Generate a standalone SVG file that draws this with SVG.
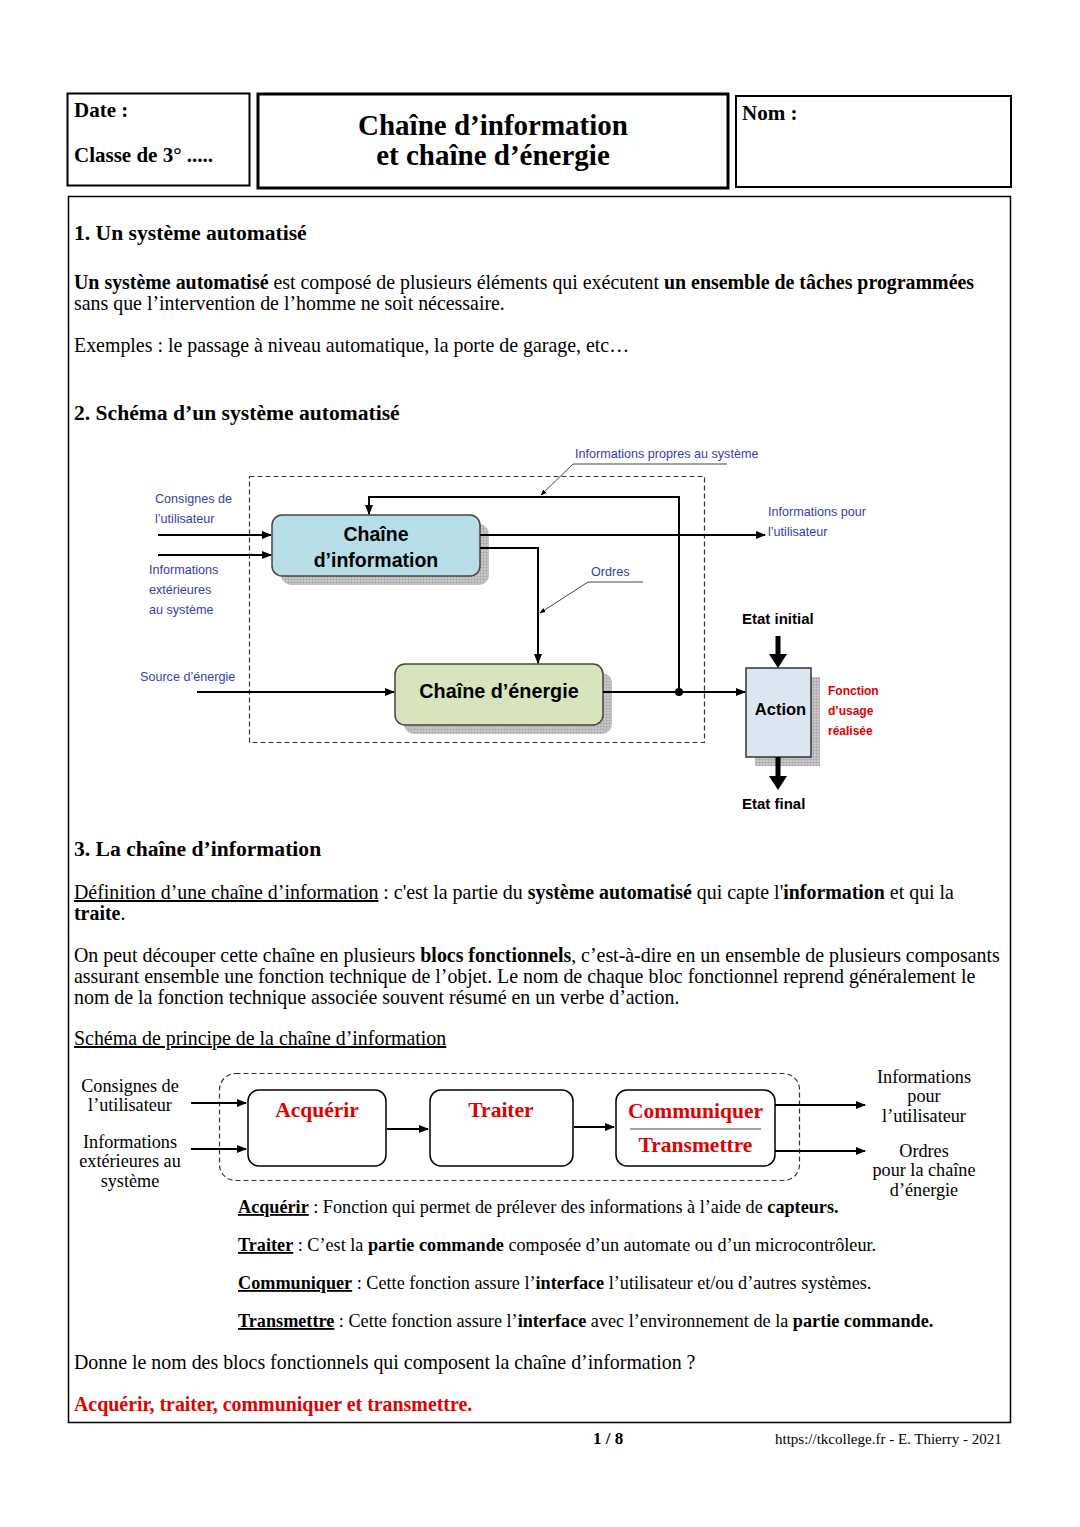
<svg xmlns="http://www.w3.org/2000/svg" width="1080" height="1527" viewBox="0 0 1080 1527">
<style>
.t{font-family:"Liberation Serif","Times New Roman",serif;fill:#000}
.b{font-weight:bold}
.s{font-family:"Liberation Sans",Arial,sans-serif}
.blue{font-family:"Liberation Sans",Arial,sans-serif;font-size:12.6px;fill:#3b3bb0}
.red{fill:#e00000}
.ln{stroke:#000;stroke-width:2;fill:none}
.dash{stroke:#333;stroke-width:1.2;fill:none;stroke-dasharray:5,3}
.thin{stroke:#444;stroke-width:1;fill:none}
.u{text-decoration:underline}
</style>
<defs>
<marker id="ah" viewBox="0 0 10 10" refX="9" refY="5" markerWidth="5" markerHeight="5" orient="auto" markerUnits="strokeWidth"><path d="M0,1 L10,5 L0,9 z" fill="#000"/></marker>
<marker id="ah2" viewBox="0 0 10 10" refX="9" refY="5" markerWidth="6" markerHeight="6" orient="auto" markerUnits="strokeWidth"><path d="M0,1 L10,5 L0,9 z" fill="#000"/></marker>
<pattern id="hatch" width="3" height="3" patternUnits="userSpaceOnUse"><rect width="3" height="3" fill="#c8c8c8"/><path d="M0,0H3M0,0V3" stroke="#999" stroke-width="0.8"/></pattern>
</defs>
<rect width="1080" height="1527" fill="#fff"/>

<!-- header -->
<g id="hdr-date">
<rect x="67.5" y="93.5" width="182" height="92" fill="none" stroke="#000" stroke-width="2"/>
<text class="t b" x="74" y="117" font-size="21">Date :</text>
<text class="t b" x="74" y="162" font-size="21">Classe de 3° .....</text>
</g>
<g id="hdr-title">
<rect x="258" y="94" width="470" height="94" fill="none" stroke="#000" stroke-width="3"/>
<text class="t b" x="493" y="135" font-size="29" text-anchor="middle">Chaîne d’information</text>
<text class="t b" x="493" y="165" font-size="29" text-anchor="middle">et chaîne d’énergie</text>
</g>
<g id="hdr-nom">
<rect x="736" y="96" width="275" height="91" fill="none" stroke="#000" stroke-width="2"/>
<text class="t b" x="742" y="120" font-size="21">Nom :</text>
</g>

<rect x="68.5" y="196.5" width="942" height="1226" fill="none" stroke="#000" stroke-width="1.5"/>

<!-- section 1 -->
<text class="t b" x="74" y="240" font-size="21.6">1. Un système automatisé</text>
<text class="t" x="74" y="289" font-size="19.9"><tspan class="b">Un système automatisé</tspan> est composé de plusieurs éléments qui exécutent <tspan class="b">un ensemble de tâches programmées</tspan></text>
<text class="t" x="74" y="310" font-size="19.9">sans que l’intervention de l’homme ne soit nécessaire.</text>
<text class="t" x="74" y="352" font-size="19.9">Exemples : le passage à niveau automatique, la porte de garage, etc…</text>

<text class="t b" x="74" y="420" font-size="21.6">2. Schéma d’un système automatisé</text>

<!-- diagram 1 -->
<rect class="dash" x="249.5" y="476.5" width="455" height="266"/>

<g id="n-info">
<rect x="281" y="524" width="208" height="61" rx="10" fill="url(#hatch)"/>
<rect x="272" y="515" width="208" height="61" rx="10" fill="#b7dde9" stroke="#444" stroke-width="1.5"/>
<text class="s b" x="376" y="541" font-size="19.5" text-anchor="middle">Chaîne</text>
<text class="s b" x="376" y="567" font-size="19.5" text-anchor="middle">d’information</text>
</g>
<g id="n-energie">
<rect x="404" y="673" width="208" height="61" rx="10" fill="url(#hatch)"/>
<rect x="395" y="664" width="208" height="61" rx="10" fill="#d8e4bc" stroke="#444" stroke-width="1.5"/>
<text class="s b" x="499" y="698" font-size="19.8" text-anchor="middle">Chaîne d’énergie</text>
</g>
<g id="n-action">
<rect x="755" y="677" width="65" height="89" fill="url(#hatch)"/>
<rect x="746" y="668" width="65" height="89" fill="#dce6f2" stroke="#333" stroke-width="1.5"/>
<text class="s b" x="780.5" y="715" font-size="16.5" text-anchor="middle">Action</text>
</g>

<g id="connectors1">
<line class="ln" x1="158" y1="535" x2="271" y2="535" marker-end="url(#ah)"/>
<line class="ln" x1="158" y1="555" x2="271" y2="555" marker-end="url(#ah)"/>
<line class="ln" x1="197" y1="692" x2="394" y2="692" marker-end="url(#ah)"/>
<polyline class="ln" points="679,692 679,497 369,497 369,514" marker-end="url(#ah)"/>
<line class="ln" x1="480" y1="535" x2="765" y2="535" marker-end="url(#ah)"/>
<polyline class="ln" points="480,548 538,548 538,663" marker-end="url(#ah)"/>
<line class="ln" x1="603" y1="692" x2="745" y2="692" marker-end="url(#ah)"/>
<circle cx="679" cy="692" r="4" fill="#000"/>
<polyline class="thin" points="727,464 573,464 541,495" marker-end="url(#ah2)"/>
<polyline class="thin" points="643,582 588,582 540,613" marker-end="url(#ah2)"/>
<line x1="778" y1="636" x2="778" y2="656" stroke="#000" stroke-width="5"/>
<polygon points="769,654 787,654 778,668" fill="#000"/>
<line x1="778" y1="757" x2="778" y2="778" stroke="#000" stroke-width="5"/>
<polygon points="769,776 787,776 778,790" fill="#000"/>
</g>

<text class="blue" x="575" y="458">Informations propres au système</text>
<text class="blue" x="155" y="503">Consignes de</text>
<text class="blue" x="155" y="523">l’utilisateur</text>
<text class="blue" x="149" y="574">Informations</text>
<text class="blue" x="149" y="594">extérieures</text>
<text class="blue" x="149" y="614">au système</text>
<text class="blue" x="140" y="681">Source d’énergie</text>
<text class="blue" x="591" y="576">Ordres</text>
<text class="blue" x="768" y="516">Informations pour</text>
<text class="blue" x="768" y="536">l’utilisateur</text>
<text class="s b" x="742" y="624" font-size="15">Etat initial</text>
<text class="s b" x="742" y="809" font-size="15">Etat final</text>
<text class="s b red" x="828" y="695" font-size="12">Fonction</text>
<text class="s b red" x="828" y="715" font-size="12">d’usage</text>
<text class="s b red" x="828" y="735" font-size="12">réalisée</text>

<!-- section 3 -->
<text class="t b" x="74" y="856" font-size="21.6">3. La chaîne d’information</text>
<text class="t" x="74" y="899" font-size="19.9"><tspan class="u">Définition d’une chaîne d’information</tspan> : c'est la partie du <tspan class="b">système automatisé</tspan> qui capte l'<tspan class="b">information</tspan> et qui la</text>
<text class="t b" x="74" y="920" font-size="19.9">traite<tspan font-weight="normal">.</tspan></text>
<text class="t" x="74" y="962" font-size="19.9">On peut découper cette chaîne en plusieurs <tspan class="b">blocs fonctionnels</tspan>, c’est-à-dire en un ensemble de plusieurs composants</text>
<text class="t" x="74" y="983" font-size="19.9">assurant ensemble une fonction technique de l’objet.  Le nom de chaque bloc fonctionnel reprend généralement le</text>
<text class="t" x="74" y="1004" font-size="19.9">nom de la fonction technique associée souvent résumé en un verbe d’action.</text>
<text class="t u" x="74" y="1045" font-size="19.9">Schéma de principe de la chaîne d’information</text>

<!-- diagram 2 -->
<rect class="dash" x="219.5" y="1073.5" width="580" height="107" rx="16"/>
<g id="n-acquerir">
<rect x="248" y="1090" width="138" height="76" rx="11" fill="#fff" stroke="#000" stroke-width="1.5"/>
<text class="t b red" x="317" y="1117" font-size="21.5" text-anchor="middle">Acquérir</text>
</g>
<g id="n-traiter">
<rect x="430" y="1090" width="143" height="76" rx="11" fill="#fff" stroke="#000" stroke-width="1.5"/>
<text class="t b red" x="501" y="1117" font-size="21.5" text-anchor="middle">Traiter</text>
</g>
<g id="n-comm">
<rect x="616" y="1090" width="159" height="76" rx="11" fill="#fff" stroke="#000" stroke-width="1.5"/>
<text class="t b red" x="695.5" y="1118" font-size="21.5" text-anchor="middle">Communiquer</text>
<line x1="630" y1="1129" x2="761" y2="1129" stroke="#444" stroke-width="1"/>
<text class="t b red" x="695.5" y="1152" font-size="21.5" text-anchor="middle">Transmettre</text>
</g>
<g id="connectors2">
<line class="ln" x1="191" y1="1103" x2="246" y2="1103" marker-end="url(#ah)"/>
<line class="ln" x1="191" y1="1149" x2="246" y2="1149" marker-end="url(#ah)"/>
<line class="ln" x1="387" y1="1129" x2="428" y2="1129" marker-end="url(#ah)"/>
<line class="ln" x1="574" y1="1127" x2="614" y2="1127" marker-end="url(#ah)"/>
<line class="ln" x1="775" y1="1105" x2="865" y2="1105" marker-end="url(#ah)"/>
<line class="ln" x1="775" y1="1151" x2="865" y2="1151" marker-end="url(#ah)"/>
</g>
<g class="t" font-size="18.2" text-anchor="middle">
<text x="130" y="1092">Consignes de</text>
<text x="130" y="1111">l’utilisateur</text>
<text x="130" y="1148">Informations</text>
<text x="130" y="1167">extérieures au</text>
<text x="130" y="1187">système</text>
<text x="924" y="1083">Informations</text>
<text x="924" y="1102">pour</text>
<text x="924" y="1122">l’utilisateur</text>
<text x="924" y="1157">Ordres</text>
<text x="924" y="1176">pour la chaîne</text>
<text x="924" y="1196">d’énergie</text>
</g>

<text class="t" x="238" y="1213" font-size="18.2"><tspan class="b u">Acquérir</tspan> : Fonction qui permet de prélever des informations à l’aide de <tspan class="b">capteurs.</tspan></text>
<text class="t" x="238" y="1251" font-size="18.2"><tspan class="b u">Traiter</tspan> : C’est la <tspan class="b">partie commande</tspan> composée d’un automate ou d’un microcontrôleur.</text>
<text class="t" x="238" y="1289" font-size="18.2"><tspan class="b u">Communiquer</tspan> : Cette fonction assure l’<tspan class="b">interface</tspan> l’utilisateur et/ou d’autres systèmes.</text>
<text class="t" x="238" y="1327" font-size="18.2"><tspan class="b u">Transmettre</tspan> : Cette fonction assure l’<tspan class="b">interface</tspan> avec l’environnement de la <tspan class="b">partie commande.</tspan></text>
<text class="t" x="74" y="1369" font-size="19.9">Donne le nom des blocs fonctionnels qui composent la chaîne d’information ?</text>
<text class="t b red" x="74" y="1411" font-size="19.9">Acquérir, traiter, communiquer et transmettre.</text>

<text class="t b" x="593" y="1444" font-size="17">1 / 8</text>
<text class="t" x="775" y="1444" font-size="15">https://tkcollege.fr  - E. Thierry  - 2021</text>
</svg>
